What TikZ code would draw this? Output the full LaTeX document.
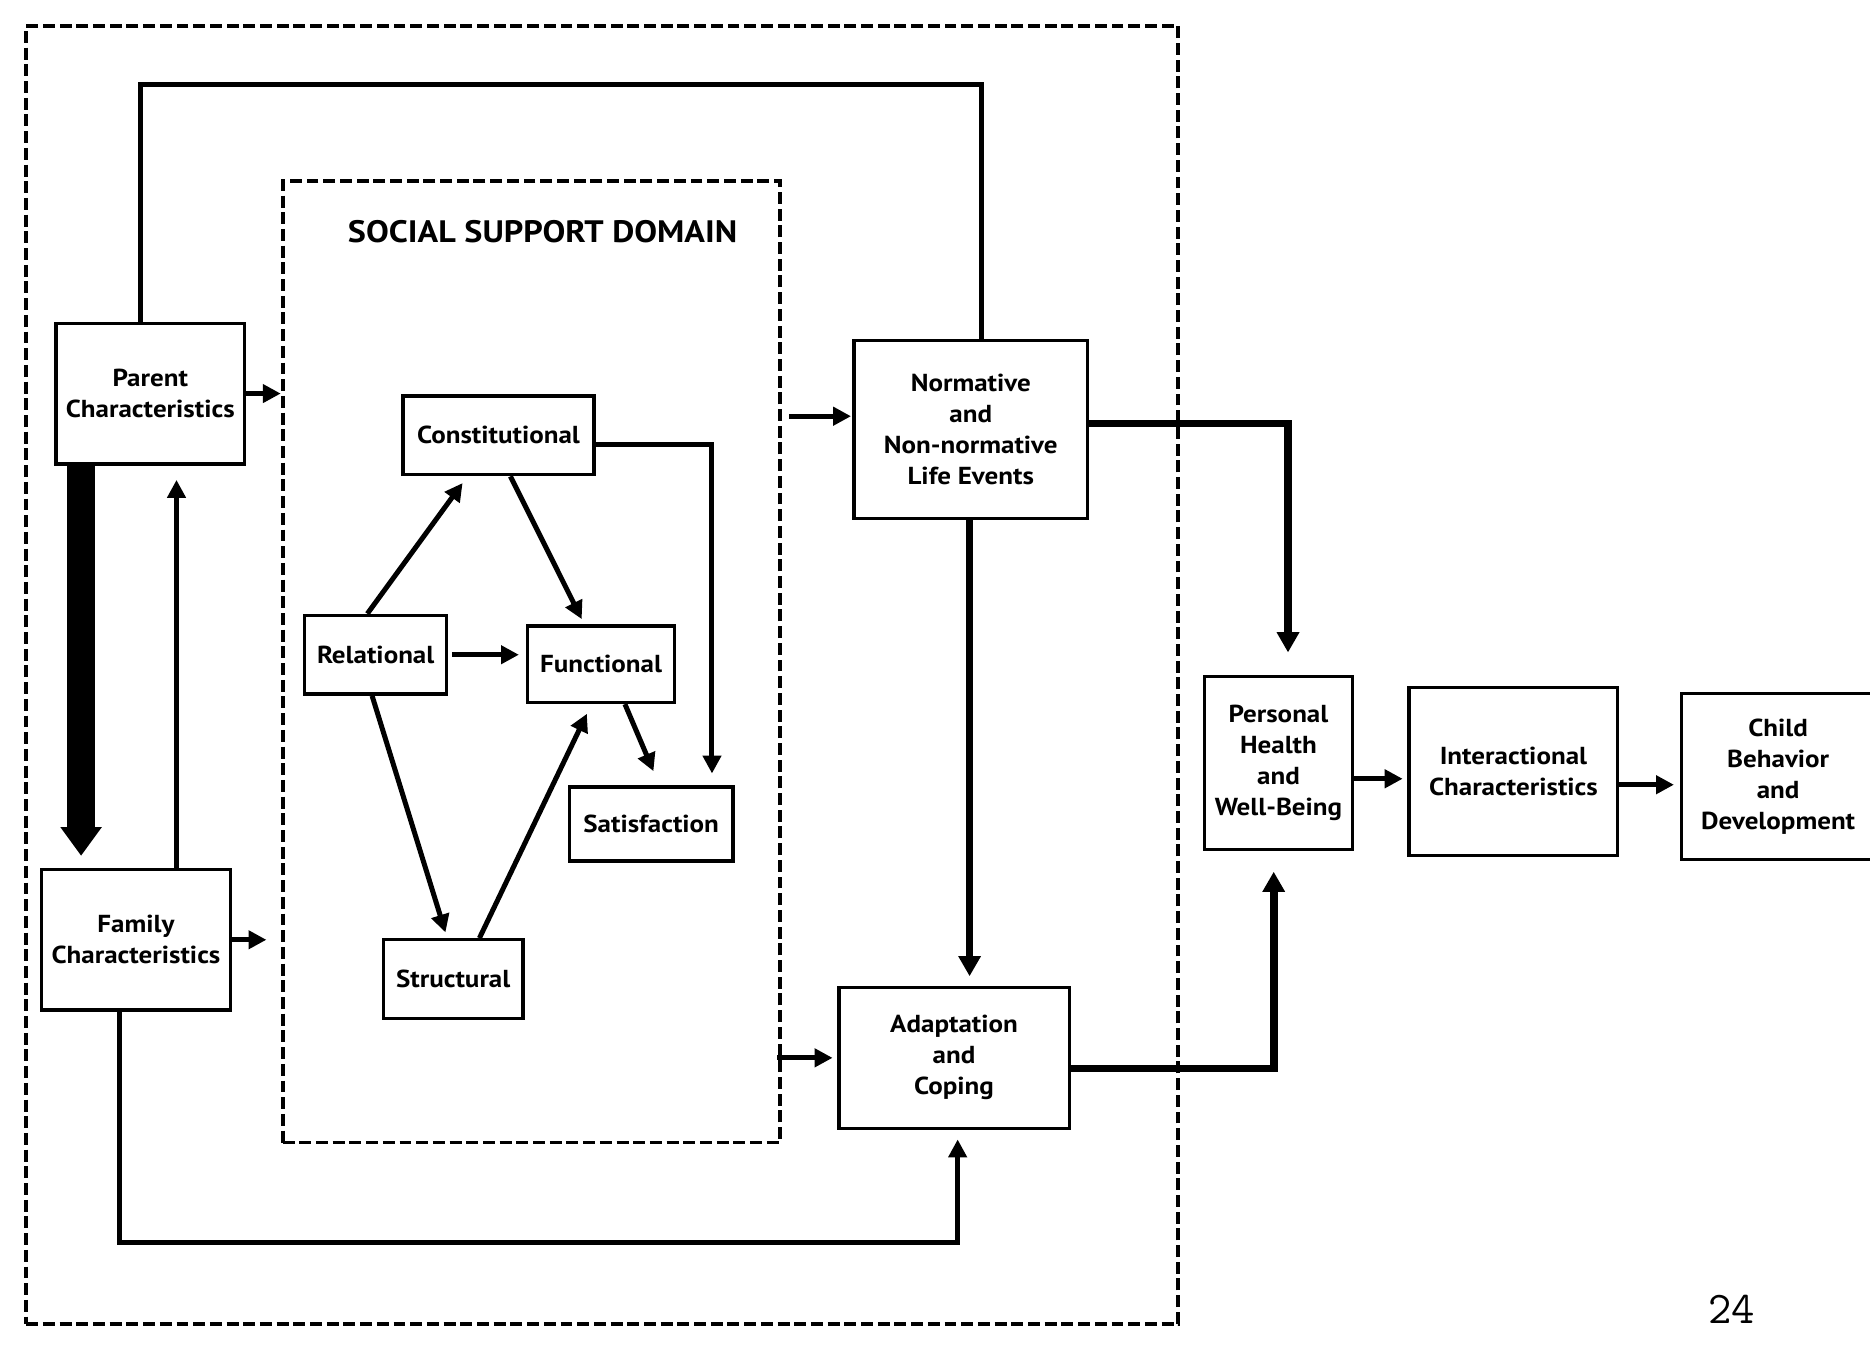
\documentclass[tikz,border=0pt]{standalone}
\usepackage{fontspec}
\setmainfont{PT Sans}[FakeStretch=1.1]
\usetikzlibrary{arrows.meta,calc}
\begin{document}
\begin{tikzpicture}[x=0.5pt,y=-0.5pt,
  box/.style={draw, line width=1.4pt, align=center, inner sep=0pt,
    font=\bfseries\fontsize{10.3}{13}\selectfont},
  dashbox/.style={draw, line width=1.6pt, dash pattern=on 5pt off 2pt, inner sep=0pt},
  conn/.style={line width=2.1pt, -{Triangle[width=7.5pt,length=7.5pt]}},
  heavy/.style={line width=3.2pt, -{Triangle[width=9pt,length=8.5pt]}},
  loopline/.style={line width=2.2pt},
  bigarrow/.style={line width=12pt, -{Triangle[width=16.5pt,length=12pt]}}
]
\useasboundingbox (0,0) rectangle (1568,1129);

% frames
\node[dashbox, minimum width=483pt, minimum height=544pt] (outer) at (505,566) {};
\node[dashbox, minimum width=208.5pt, minimum height=403pt] (ssd) at (445.5,555) {};
\node[font=\bfseries\fontsize{13}{15}\selectfont] (title) at (455,194) {SOCIAL SUPPORT DOMAIN};

% outer boxes
\node[box, minimum width=79pt, minimum height=59pt] (par) at (126,330) {Parent\\Characteristics};
\node[box, minimum width=79pt, minimum height=59pt] (fam) at (114,788) {Family\\Characteristics};
\node[box, minimum width=98pt, minimum height=74.5pt] (nor) at (814,360) {Normative\\and\\Non-normative\\Life Events};
\node[box, minimum width=96.5pt, minimum height=59pt] (ada) at (800,887) {Adaptation\\and\\Coping};
\node[box, minimum width=62pt, minimum height=72.5pt] (per) at (1072,640) {Personal\\Health\\and\\Well-Being};
\node[box, minimum width=87.5pt, minimum height=70.5pt] (int) at (1269,647) {Interactional\\Characteristics};
\node[box, minimum width=81pt, minimum height=69.5pt] (chi) at (1491,651) {Child\\Behavior\\and\\Development};

% social support boxes
\node[box, minimum width=80pt, minimum height=33pt] (con) at (418,365) {Constitutional};
\node[box, minimum width=59.5pt, minimum height=33pt] (rel) at (315,549) {Relational};
\node[box, minimum width=61.5pt, minimum height=32pt] (fun) at (504,557) {Functional};
\node[box, minimum width=68.5pt, minimum height=31pt] (sat) at (546,691) {Satisfaction};
\node[box, minimum width=58.5pt, minimum height=33pt] (str) at (380,821) {Structural};

\node[font=\ttfamily\fontsize{19}{19}\selectfont] (pg) at (1452,1098) {24};

% helper coordinates
\coordinate (pt1) at (118,71);
\coordinate (pt2) at (823,71);
\coordinate (fb1) at (100,1042);
\coordinate (fb2) at (803,1042);
\coordinate (xa) at (68,0);
\coordinate (xb) at (148,0);
\coordinate (xc) at (813,0);
\coordinate (yn) at (0,349);
\coordinate (np) at (1080,355);
\coordinate (ap) at (1068,896);
\coordinate (y1) at (0,653);
\coordinate (y2) at (0,658);
\coordinate (cs) at (597,373);

% parent / family links
\draw[loopline] (par.north -| pt1) -- (pt1) -- (pt2) -- (nor.north -| pt2);
\draw[loopline, -{Triangle[width=7.5pt,length=7.5pt]}, shorten >=4pt]
  (fam.south -| fb1) -- (fb1) -- (fb2) -- (ada.south -| fb2);
\draw[bigarrow, shorten >=5pt] (par.south -| xa) -- (fam.north -| xa);
\draw[conn, shorten >=6pt] (fam.north -| xb) -- (par.south -| xb);
\draw[conn] (par.east) -- (par.east -| ssd.west);
\draw[conn, shorten >=6pt] (fam.east) -- (fam.east -| ssd.west);

% domain to events and coping
\draw[conn, shorten <=3pt, shorten >=0.5pt] (ssd.east |- yn) -- (nor.west |- yn);
\draw[conn, shorten <=-2pt, shorten >=2pt] (ssd.east |- ada.west) -- (ada.west);
\draw[heavy, shorten >=4pt] (nor.south -| xc) -- (ada.north -| xc);
\draw[heavy, shorten >=9.5pt] (nor.east |- np) -- (np) -- (per.north -| np);
\draw[heavy, shorten >=8.5pt] (ada.east |- ap) -- (ap) -- (per.south -| ap);
\draw[conn, shorten >=2pt] (per.east |- y1) -- (int.west |- y1);
\draw[conn, shorten >=2.5pt] (int.east |- y2) -- (chi.west |- y2);

% inside the social support domain
\draw[conn, shorten >=3.5pt] ($(rel.north)+(-7,0)$) -- ($(con.south)+(-26,0)$);
\draw[conn, shorten >=2.5pt] ($(con.south)+(10,0)$) -- ($(fun.north)+(-14,0)$);
\draw[conn, shorten <=1.5pt, shorten >=3pt] (rel.east) -- (fun.west |- rel.east);
\draw[conn, shorten >=2.5pt] ($(rel.south)+(-3,0)$) -- ($(str.north)+(-5,0)$);
\draw[conn, shorten >=4.5pt] ($(str.north)+(22,0)$) -- ($(fun.south)+(-8,0)$);
\draw[conn, shorten >=6.5pt] ($(fun.south)+(20,0)$) -- ($(sat.north)+(7,0)$);
\draw[conn, shorten >=5pt] (con.east |- cs) -- (cs) -- (sat.north -| cs);
\end{tikzpicture}
\end{document}
